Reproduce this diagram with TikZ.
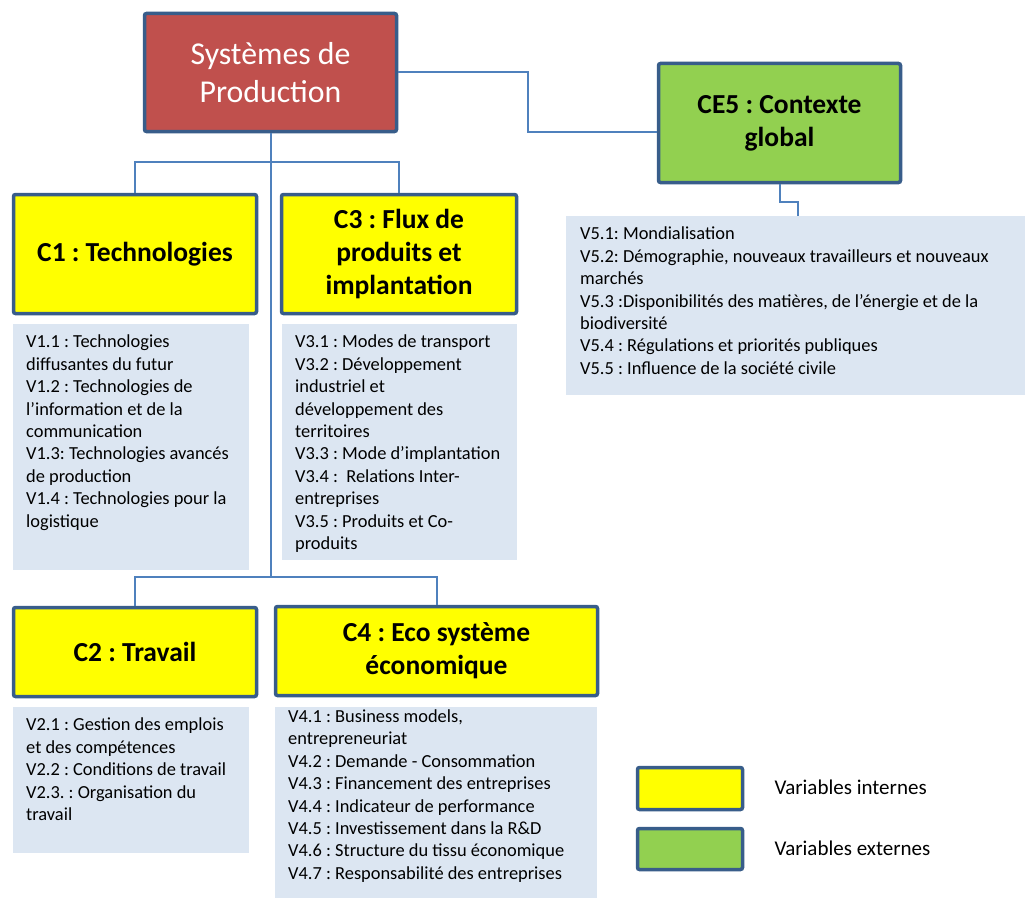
\documentclass[tikz,border=0pt]{standalone}
\usepackage{fontspec}
\setmainfont{Carlito}
\usetikzlibrary{positioning, calc}
\definecolor{outline}{RGB}{56,93,138}
\definecolor{linkblue}{RGB}{79,129,189}
\definecolor{prodred}{RGB}{192,80,77}
\definecolor{intyellow}{RGB}{255,255,0}
\definecolor{extgreen}{RGB}{146,208,80}
\definecolor{listblue}{RGB}{220,230,242}
\frenchspacing

\begin{document}
\begin{tikzpicture}[
    x=1pt, y=-1pt,
    box/.style={draw=outline, line width=3.5pt, rounded corners=2pt, align=center, inner sep=0pt},
    title/.style={box, fill=intyellow, font=\fontsize{27.5}{33}\selectfont\bfseries},
    varbox/.style={fill=listblue, anchor=north west, inner xsep=13pt, inner ysep=11pt, font=\fontsize{18.4}{22.4}\selectfont},
    legend/.style={anchor=west, font=\fontsize{21}{25}\selectfont},
    link/.style={draw=linkblue, line width=2pt}
  ]
  \useasboundingbox[fill=white] (0,0) rectangle (1025,899);

  \node[box, fill=prodred, text=white, font=\fontsize{31.8}{38}\selectfont, minimum width=252pt, minimum height=118pt] (prod) at (270.5,72.5) {Systèmes de\\Production};
  \node[box, fill=extgreen, font=\fontsize{27.5}{33}\selectfont\bfseries, minimum width=242pt, minimum height=119pt] (ce5) at (779.5,123) {CE5 : Contexte\\global};

  \node[title, minimum width=243pt, minimum height=119pt] (c1) at (135,254) {C1 : Technologies};
  \node[title, minimum width=235pt, minimum height=119pt] (c3) at (399,254) {C3 : Flux de\\produits et\\implantation};
  \node[title, minimum width=243pt, minimum height=89pt] (c2) at (135,652) {C2 : Travail};
  \node[title, minimum width=322pt, minimum height=89pt] (c4) at (436.5,651) {C4 : Eco système\\économique};

  \node[varbox] (l1) at (13,324) {\parbox[t][224pt][t]{210pt}{\raggedright
    V1.1 : Technologies\\
    diffusantes du futur\\
    V1.2 : Technologies de\\
    l’information et de la\\
    communication\\
    V1.3: Technologies avancés\\
    de production\\
    V1.4 : Technologies pour la\\
    logistique}};
  \node[varbox] (l3) at (282,324) {\parbox[t][214pt][t]{209pt}{\raggedright
    V3.1 : Modes de transport\\
    V3.2 : Développement\\
    industriel et\\
    développement des\\
    territoires\\
    V3.3 : Mode d’implantation\\
    V3.4 :~ Relations Inter-\\
    entreprises\\
    V3.5 : Produits et Co-\\
    produits}};
  \node[varbox] (l2) at (13,707) {\parbox[t][124pt][t]{210pt}{\raggedright
    V2.1 : Gestion des emplois\\
    et des compétences\\
    V2.2 : Conditions de travail\\
    V2.3. : Organisation du\\
    travail}};
  \node[varbox, inner ysep=2.5pt] (l4) at (275,707) {\parbox[t][186pt][t]{296pt}{\raggedright
    V4.1 : Business models,\\
    entrepreneuriat\\
    V4.2 : Demande - Consommation\\
    V4.3 : Financement des entreprises\\
    V4.4 : Indicateur de performance\\
    V4.5 : Investissement dans la R\&D\\
    V4.6 : Structure du tissu économique\\
    V4.7 : Responsabilité des entreprises}};
  \node[varbox, inner xsep=14pt] (l5) at (566,216) {\parbox[t][157pt][t]{431pt}{\raggedright
    V5.1: Mondialisation\\
    V5.2: Démographie, nouveaux travailleurs et nouveaux\\
    marchés\\
    V5.3 :Disponibilités des matières, de l’énergie et de la\\
    biodiversité\\
    V5.4 : Régulations et priorités publiques\\
    V5.5 : Influence de la société civile}};

  \node[box, fill=intyellow, minimum width=105pt, minimum height=42pt] (legint) at (690,788.5) {};
  \node[box, fill=extgreen, minimum width=105pt, minimum height=41pt] (legext) at (690,849) {};
  \node[legend] (legintlabel) at (771,787) {Variables internes};
  \node[legend] (legextlabel) at (771,848) {Variables externes};

  \coordinate (fork1) at (270.5,162);
  \coordinate (fork2) at (270.5,577);

  \draw[link] (prod.south) -- (fork2);
  \draw[link] (fork1) -| (c1.north);
  \draw[link] (fork1) -| (c3.north);
  \draw[link] (fork2) -| (c2.north);
  \draw[link] (fork2) -| (c4.north);
  \draw[link] (prod.east) -| ([xshift=-129pt,yshift=-9pt]ce5.west) -- ([yshift=-9pt]ce5.west);
  \draw[link] (ce5.south) -- ++(0,18) -| ([xshift=2.5pt]l5.north);

\end{tikzpicture}
\end{document}
